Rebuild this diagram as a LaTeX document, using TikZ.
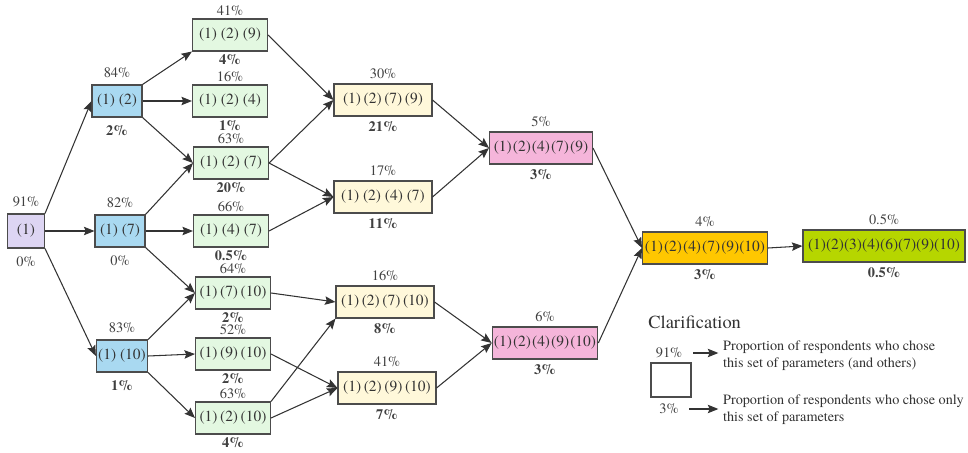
\documentclass[tikz,border=0pt]{standalone}
\usepackage{fontspec}
\setmainfont{texgyretermes-regular.otf}[BoldFont=texgyretermes-bold.otf]
\usetikzlibrary{arrows.meta}

\definecolor{setone}{HTML}{DDD5F3}
\definecolor{settwo}{HTML}{A9D9F1}
\definecolor{setthree}{HTML}{E3F8E1}
\definecolor{setfour}{HTML}{FFF8DA}
\definecolor{setfive}{HTML}{F5B5DA}
\definecolor{setsix}{HTML}{FFC700}
\definecolor{seteight}{HTML}{B6D600}

% small gap between the numbers in the long sets
\newcommand\gap{\kern0.6pt}

\tikzset{
  pbox/.style={font=\fontsize{8.8}{10}\selectfont, draw=black!70, line width=0.6pt,
    minimum height=0.64cm, inner sep=1pt, text=black!80},
  pct/.style={font=\fontsize{8.2}{10}\selectfont, text=black!75, inner sep=0pt},
  pctb/.style={pct, font=\fontsize{8.2}{10}\selectfont\bfseries},
  all/.style={label={[pct, label distance=1.2pt]above:#1}},
  only/.style={label={[pctb, label distance=1.3pt]below:#1}},
  allw/.style={label={[pct, label distance=2.3pt]above:#1}},
  onlyw/.style={label={[pctb, label distance=2.7pt]below:#1}},
  allfar/.style={label={[pct, label distance=3.4pt]above:#1}},
  onlyfar/.style={label={[pctb, label distance=4.5pt]below:#1}},
  link/.style={-{Stealth[length=6pt,width=4.8pt,inset=1pt]}, draw=black!80, line width=0.6pt}
}

\begin{document}
\begin{tikzpicture}[x=0.02cm, y=-0.02cm]
  % page window in reference pixels
  \useasboundingbox (0,0) rectangle (968,453);

  % first and second parameter
  \node[pbox, fill=setone, minimum width=0.74cm, minimum height=0.68cm, allfar=91\%,
    label={[pct, label distance=4.5pt]below:0\%}] (p1) at (26,231) {(1)};
  \node[pbox, fill=settwo, minimum width=1cm, allfar=84\%, onlyfar=2\%] (p12) at (117,101) {(1) (2)};
  \node[pbox, fill=settwo, minimum width=1cm, allfar=82\%,
    label={[pct, label distance=4.5pt]below:0\%}] (p17) at (120,231) {(1) (7)};
  \node[pbox, fill=settwo, minimum width=1cm, allfar=83\%, onlyfar=1\%] (p110) at (122,356) {(1) (10)};

  % three parameters
  \node[pbox, fill=setthree, minimum width=1.5cm, all=41\%, only=4\%] (p129) at (230,35) {(1) (2) (9)};
  \node[pbox, fill=setthree, minimum width=1.5cm, all=16\%, only=1\%] (p124) at (230,101) {(1) (2) (4)};
  \node[pbox, fill=setthree, minimum width=1.5cm, all=63\%, only=20\%] (p127) at (231,163) {(1) (2) (7)};
  \node[pbox, fill=setthree, minimum width=1.5cm, all=66\%, only=0.5\%] (p147) at (231,231) {(1) (4) (7)};
  \node[pbox, fill=setthree, minimum width=1.5cm, all=64\%, only=2\%] (p1710) at (233,293) {(1)\,(7)\,(10)};
  \node[pbox, fill=setthree, minimum width=1.5cm, all=52\%, only=2\%] (p1910) at (233,354) {(1)\,(9)\,(10)};
  \node[pbox, fill=setthree, minimum width=1.5cm, all=63\%, only=4\%] (p1210) at (233,418) {(1)\,(2)\,(10)};

  % four parameters
  \node[pbox, fill=setfour, minimum width=1.96cm, allw=30\%, onlyw=21\%] (p1279) at (383,100) {(1)\,(2)\,(7)\,(9)};
  \node[pbox, fill=setfour, minimum width=1.96cm, allw=17\%, onlyw=11\%] (p1247) at (383,197) {(1) (2) (4) (7)};
  \node[pbox, fill=setfour, minimum width=1.96cm, allw=16\%, onlyw=8\%] (p12710) at (385,302) {(1)\,(2)\,(7)\,(10)};
  \node[pbox, fill=setfour, minimum width=1.96cm, allw=41\%, onlyw=7\%] (p12910) at (387,388) {(1)\,(2)\,(9)\,(10)};

  % five parameters
  \node[pbox, fill=setfive, minimum width=2.06cm, allw=5\%, onlyw=3\%] (p12479) at (541,148) {(1)\gap(2)\gap(4)\gap(7)\gap(9)};
  \node[pbox, fill=setfive, minimum width=2.1cm, allw=6\%, onlyw=3\%] (p124910) at (545,343) {(1)\gap(2)\gap(4)\gap(9)\gap(10)};

  % six and eight parameters
  \node[pbox, fill=setsix, minimum width=2.5cm, allw=4\%, onlyw=3\%] (p1247910) at (705,248) {(1)\gap(2)\gap(4)\gap(7)\gap(9)(10)};
  \node[pbox, fill=seteight, minimum width=3.24cm, allw=0.5\%, onlyw=0.5\%] (pall) at (884,246) {(1)(2)(3)(4)(6)(7)(9)(10)};

  % connectors
  \draw[link] (p1.north east) -- (p12.west);
  \draw[link] (p1.east) -- (p17.west);
  \draw[link] (p1.south east) -- (p110.west);

  \draw[link] (p12.north east) -- (p129.south west);
  \draw[link] (p12.east) -- (p124.west);
  \draw[link] (p12.south east) -- (p127.west);
  \draw[link] (p17.north east) -- (p127.west);
  \draw[link] (p17.east) -- (p147.west);
  \draw[link] (p17.south east) -- (p1710.west);
  \draw[link] (p110.north east) -- (p1710.west);
  \draw[link] (p110.east) -- (p1910.west);
  \draw[link] (p110.south east) -- (p1210.west);

  \draw[link] (p129.east) -- (p1279.west);
  \draw[link] (p127.east) -- (p1279.west);
  \draw[link] (p127.east) -- (p1247.west);
  \draw[link] (p147.east) -- (p1247.west);
  \draw[link] (p1710.east) -- (p12710.west);
  \draw[link] (p1210.north east) -- (p12710.south west);
  \draw[link] (p1910.east) -- (p12910.west);
  \draw[link] (p1210.east) -- (p12910.west);

  \draw[link] (p1279.east) -- (p12479.west);
  \draw[link] (p1247.east) -- (p12479.west);
  \draw[link] (p12710.east) -- (p124910.west);
  \draw[link] (p12910.east) -- (p124910.west);

  \draw[link] (p12479.east) -- (p1247910.west);
  \draw[link] (p124910.east) -- (p1247910.west);
  \draw[link] (p1247910.east) -- (pall.west);

  % clarification
  \node[anchor=west, inner sep=0pt, text=black!80, font=\fontsize{10.5}{12}\selectfont] (keytitle) at (648,322) {Clarification};
  \node[draw=black!70, line width=0.6pt, minimum width=0.8cm, minimum height=0.68cm] (keybox) at (671,380) {};
  \node[pct] (keyall) at (669,353) {91\%};
  \node[pct] (keyonly) at (669,409) {3\%};
  \node[anchor=west, align=left, inner sep=1pt, text=black!80, font=\fontsize{8.1}{9.6}\selectfont] (keyalltext) at (721,356)
    {Proportion of respondents who chose\\this set of parameters (and others)};
  \node[anchor=west, align=left, inner sep=1pt, text=black!80, font=\fontsize{8.1}{9.6}\selectfont] (keyonlytext) at (721,410)
    {Proportion of respondents who chose only\\this set of parameters};
  \draw[link, shorten <=6pt, shorten >=1.5pt] (keyall.east) -- (keyall.east -| keyalltext.west);
  \draw[link, shorten <=6pt, shorten >=1.5pt] (keyonly.east) -- (keyonly.east -| keyonlytext.west);
\end{tikzpicture}
\end{document}
